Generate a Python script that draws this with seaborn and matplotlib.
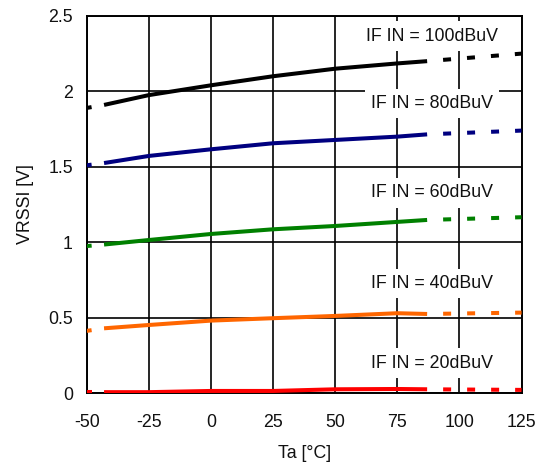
import numpy as np
import pandas as pd
import matplotlib
matplotlib.use("Agg")
import matplotlib.pyplot as plt
import seaborn as sns
from matplotlib.ticker import FuncFormatter

sns.set_theme(style="whitegrid")
plt.rcParams['font.family'] = ['Liberation Sans', 'DejaVu Sans']
plt.rcParams['lines.scale_dashes'] = False
plt.rcParams['axes.unicode_minus'] = False

# Dados
temp_solido = [-43, -25, 0, 25, 50, 75, 87]
temp_esq = [-50, -43]
temp_dir = [87, 125]

series = ['IF IN = 100dBuV', 'IF IN = 80dBuV', 'IF IN = 60dBuV',
          'IF IN = 40dBuV', 'IF IN = 20dBuV']
cores = ['#000000', '#000080', '#008000', '#FF6600', '#FF0000']

v100 = [1.91, 1.975, 2.04, 2.10, 2.15, 2.185, 2.20]
v80 = [1.525, 1.572, 1.616, 1.656, 1.678, 1.70, 1.715]
v60 = [0.985, 1.015, 1.055, 1.086, 1.108, 1.135, 1.148]
v40 = [0.43, 0.452, 0.481, 0.497, 0.512, 0.53, 0.525]
v20 = [0.007, 0.007, 0.015, 0.015, 0.026, 0.028, 0.026]

esq = [[1.89, 1.91], [1.51, 1.525], [0.975, 0.985], [0.413, 0.43], [0.007, 0.007]]
dir_ = [[2.20, 2.25], [1.715, 1.74], [1.148, 1.166], [0.525, 0.534], [0.026, 0.022]]

# posicao dos rotulos
rotulo_x = 89
rotulo_y = [2.366, 1.92, 1.327, 0.728, 0.199]

solidos = [v100, v80, v60, v40, v20]

fig = plt.figure(figsize=(5.45, 4.67), dpi=100)
ax = fig.add_axes([0.159, 0.158, 0.798, 0.808])
ax.set_facecolor('white')

lw = 2.9
pt = 0.72  # px -> pt
for nome, cor, vals, e, d in zip(series, cores, solidos, esq, dir_):
    sns.lineplot(x=temp_solido, y=vals, color=cor, linewidth=lw, ax=ax,
                 solid_capstyle='butt', zorder=3)
    ax.plot(temp_esq, e, color=cor, linewidth=lw,
            linestyle=(3 * pt, (8 * pt, 16 * pt)), dash_capstyle='butt', zorder=3)
    ax.plot(temp_dir, d, color=cor, linewidth=lw,
            linestyle=(8 * pt, (8 * pt, 16 * pt)), dash_capstyle='butt', zorder=3)

for nome, yy in zip(series, rotulo_y):
    ax.text(rotulo_x, yy, nome, ha='center', va='center', fontsize=12.8,
            color='#111111', zorder=4,
            bbox=dict(facecolor='white', edgecolor='none', boxstyle='square,pad=0.35'))

ax.set_xlim(-50, 125)
ax.set_ylim(0, 2.5)
ax.set_xticks(np.arange(-50, 126, 25))
ax.set_yticks(np.arange(0, 2.51, 0.5))
ax.yaxis.set_major_formatter(FuncFormatter(lambda v, p: '%g' % v))
ax.grid(True, color='black', linewidth=1.2)
for s in ax.spines.values():
    s.set_color('black')
    s.set_linewidth(1.4)
ax.tick_params(axis='both', length=0, labelsize=12.8, colors='#111111')
ax.tick_params(axis='x', pad=15)
ax.tick_params(axis='y', pad=10)

ax.set_xlabel('Ta [°C]', fontsize=12.8, color='#111111', labelpad=10)
ax.set_ylabel('VRSSI [V]', fontsize=12.8, color='#111111', labelpad=10)

fig.savefig('out.png', dpi=100, facecolor='white')
